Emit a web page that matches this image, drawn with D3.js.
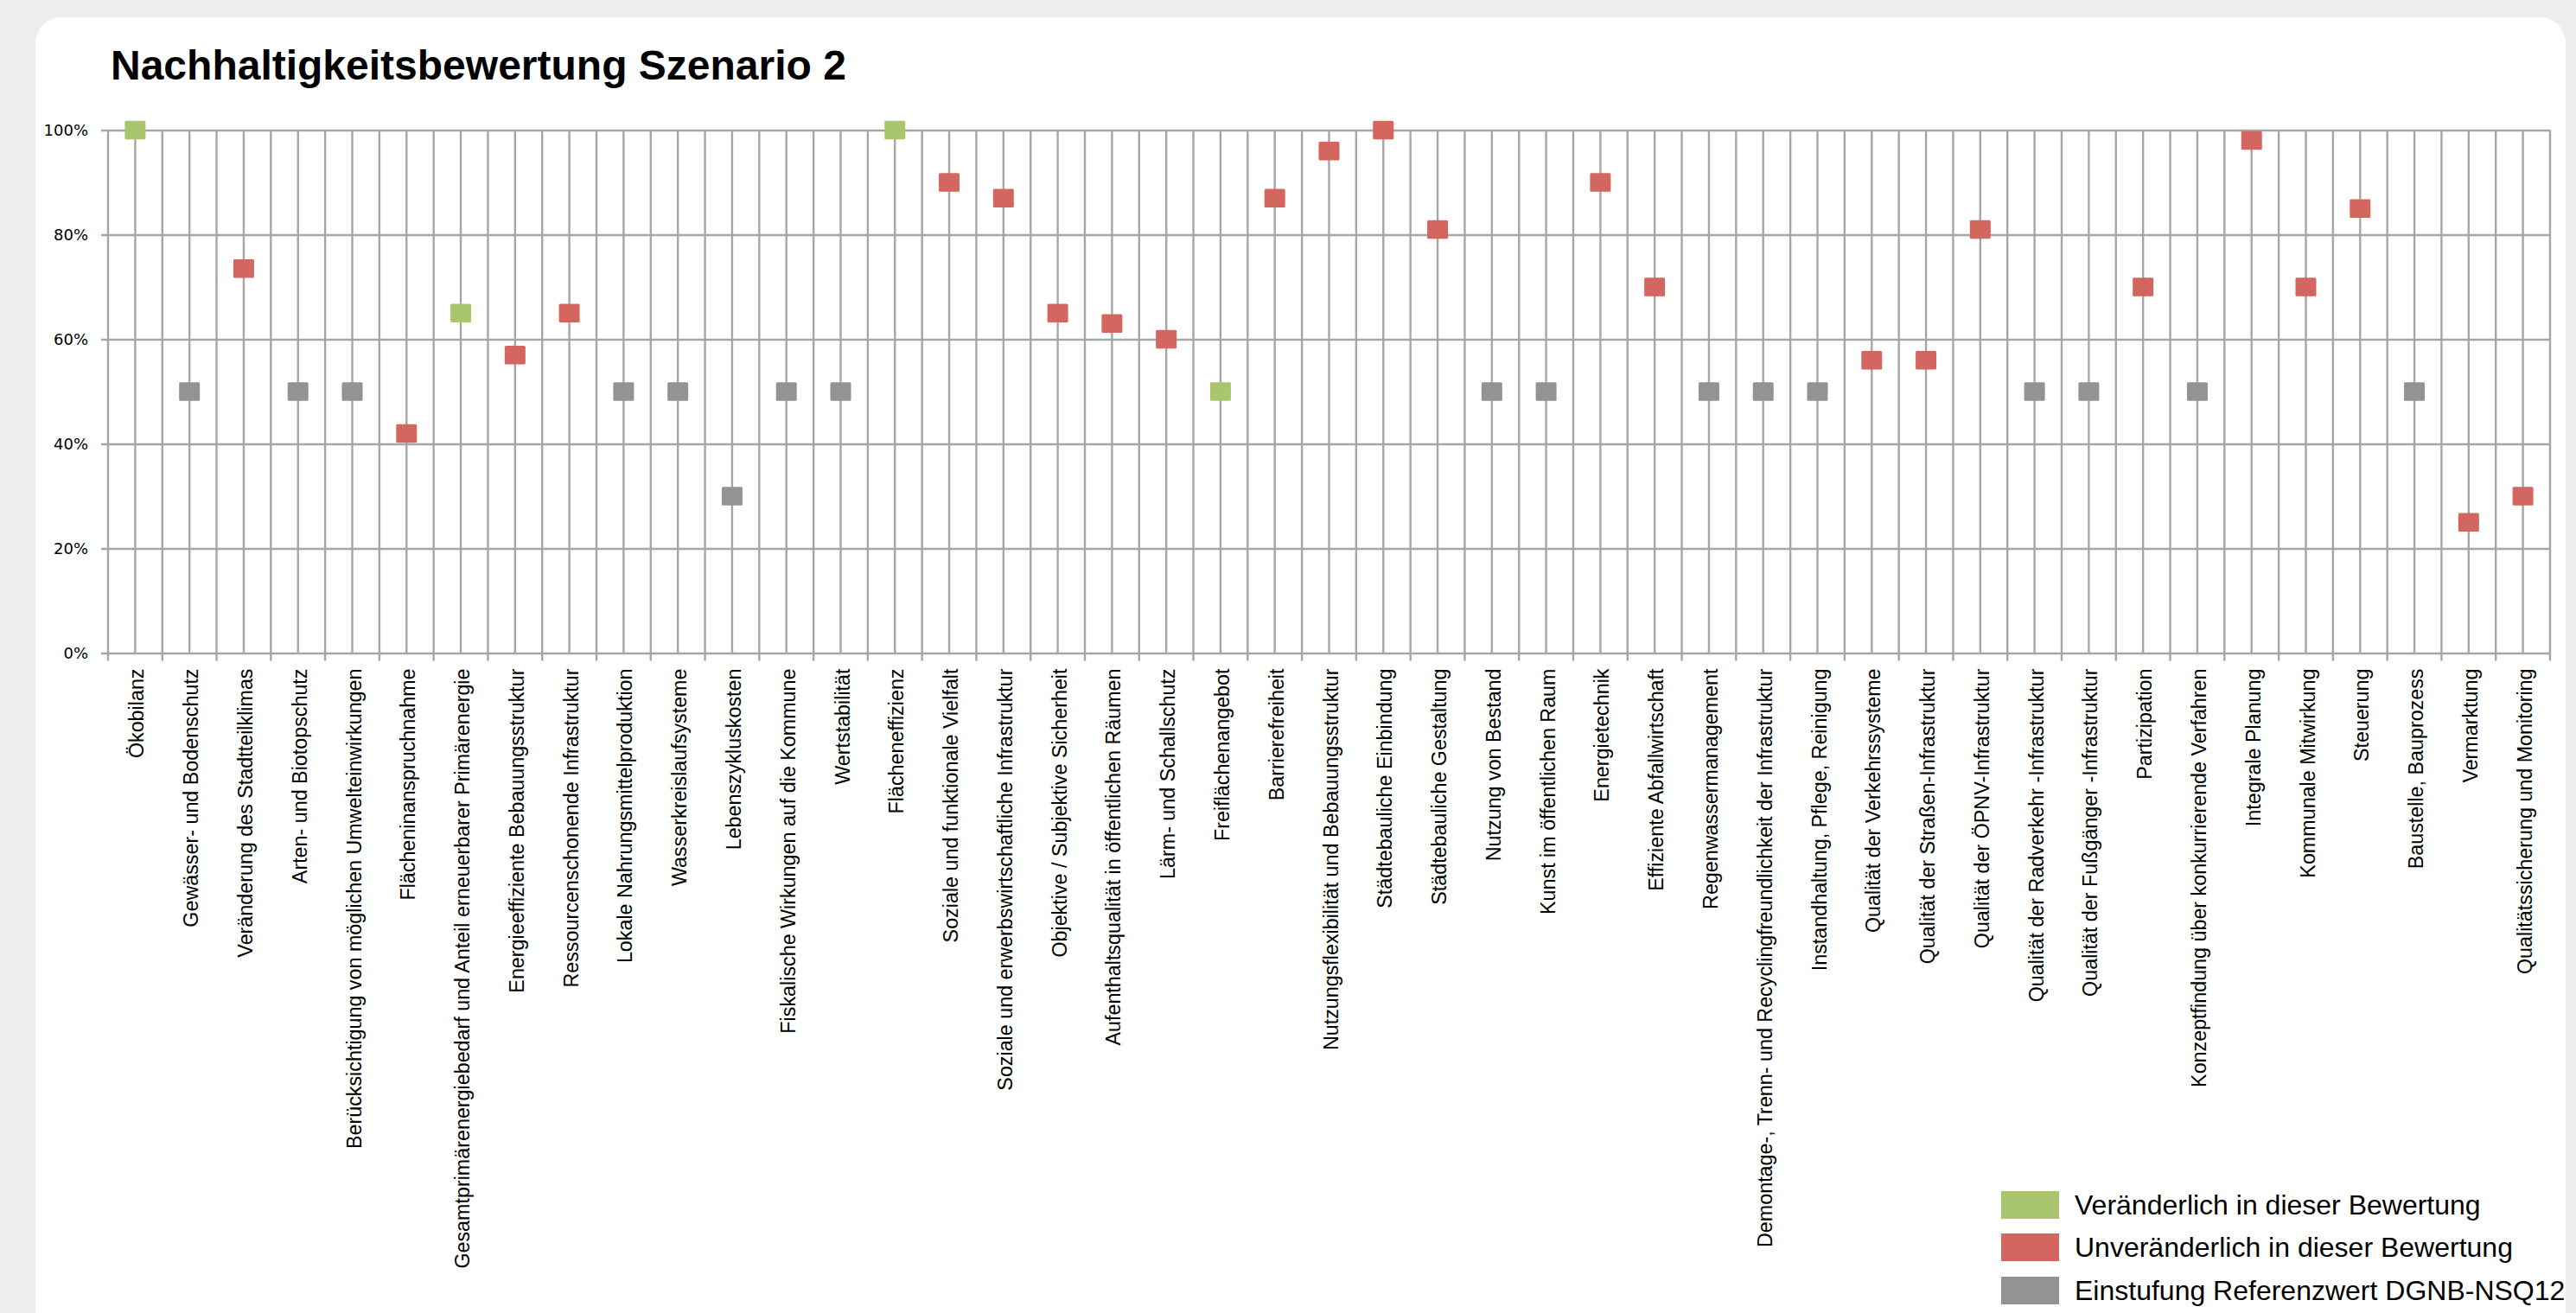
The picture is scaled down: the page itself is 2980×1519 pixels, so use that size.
<!DOCTYPE html>
<html lang="de">
<head>
<meta charset="utf-8">
<title>Nachhaltigkeitsbewertung Szenario 2</title>
<script src="https://cdn.jsdelivr.net/npm/d3@7"></script>
<style>
  html, body { margin: 0; padding: 0; background: #eeecec; }
  svg { display: block; }
</style>
</head>
<body>
<svg id="chart" width="2980" height="1519"></svg>
<script>
// Kriterien der Bewertung (x-Achse)
const categories = [
  "Ökobilanz",
  "Gewässer- und Bodenschutz",
  "Veränderung des Stadtteilklimas",
  "Arten- und Biotopschutz",
  "Berücksichtigung von möglichen Umwelteinwirkungen",
  "Flächeninanspruchnahme",
  "Gesamtprimärenergiebedarf und Anteil erneuerbarer Primärenergie",
  "Energieeffiziente Bebauungsstruktur",
  "Ressourcenschonende Infrastruktur",
  "Lokale Nahrungsmittelproduktion",
  "Wasserkreislaufsysteme",
  "Lebenszykluskosten",
  "Fiskalische Wirkungen auf die Kommune",
  "Wertstabilität",
  "Flächeneffizienz",
  "Soziale und funktionale Vielfalt",
  "Soziale und erwerbswirtschaftliche Infrastruktur",
  "Objektive / Subjektive Sicherheit",
  "Aufenthaltsqualität in öffentlichen Räumen",
  "Lärm- und Schallschutz",
  "Freiflächenangebot",
  "Barrierefreiheit",
  "Nutzungsflexibilität und Bebauungsstruktur",
  "Städtebauliche Einbindung",
  "Städtebauliche Gestaltung",
  "Nutzung von Bestand",
  "Kunst im öffentlichen Raum",
  "Energietechnik",
  "Effiziente Abfallwirtschaft",
  "Regenwassermanagement",
  "Demontage-, Trenn- und Recyclingfreundlichkeit der Infrastruktur",
  "Instandhaltung, Pflege, Reinigung",
  "Qualität der Verkehrssysteme",
  "Qualität der Straßen-Infrastruktur",
  "Qualität der ÖPNV-Infrastruktur",
  "Qualität der Radverkehr -Infrastruktur",
  "Qualität der Fußgänger -Infrastruktur",
  "Partizipation",
  "Konzeptfindung über konkurrierende Verfahren",
  "Integrale Planung",
  "Kommunale Mitwirkung",
  "Steuerung",
  "Baustelle, Bauprozess",
  "Vermarktung",
  "Qualitätssicherung und Monitoring"
];

// Erfüllungsgrad je Kriterium (Anteil 0..1), null = keine Angabe in dieser Reihe
const _ = null;
const veraenderlich = [
  1.00, _, _, _, _, _, 0.65, _, _, _,
  _, _, _, _, 1.00, _, _, _, _, _,
  0.50, _, _, _, _, _, _, _, _, _,
  _, _, _, _, _, _, _, _, _, _,
  _, _, _, _, _
];
const unveraenderlich = [
  _, _, 0.735, _, _, 0.42, _, 0.57, 0.65, _,
  _, _, _, _, _, 0.90, 0.87, 0.65, 0.63, 0.60,
  _, 0.87, 0.96, 1.00, 0.81, _, _, 0.90, 0.70, _,
  _, _, 0.56, 0.56, 0.81, _, _, 0.70, _, 0.98,
  0.70, 0.85, _, 0.25, 0.30
];
const referenzwert = [
  _, 0.50, _, 0.50, 0.50, _, _, _, _, 0.50,
  0.50, 0.30, 0.50, 0.50, _, _, _, _, _, _,
  _, _, _, _, _, 0.50, 0.50, _, _, 0.50,
  0.50, 0.50, _, _, _, 0.50, 0.50, _, 0.50, _,
  _, _, 0.50, _, _
];

const yTicks = [0, 0.2, 0.4, 0.6, 0.8, 1.0];

const seriesNames = [
  "Veränderlich in dieser Bewertung",
  "Unveränderlich in dieser Bewertung",
  "Einstufung Referenzwert DGNB-NSQ12"
];
const seriesColors = ["#a9c66e", "#d3665f", "#939393"];
const seriesData = [veraenderlich, unveraenderlich, referenzwert];

const svg = d3.select("#chart");
const gridColor = "#a6a6a6";

// Weiße Karte mit abgerundeten Ecken
svg.append("rect")
  .attr("x", 41).attr("y", 20)
  .attr("width", 2927).attr("height", 1600)
  .attr("rx", 30).attr("ry", 30)
  .attr("fill", "#ffffff");

// Titel
svg.append("text")
  .attr("x", 128).attr("y", 92)
  .attr("font-family", "'Liberation Sans', Arial, sans-serif")
  .attr("font-weight", "bold")
  .attr("font-size", 48)
  .attr("fill", "#000")
  .text("Nachhaltigkeitsbewertung Szenario 2");

// Skalen
const plot = { left: 125, right: 2950, top: 150.5, bottom: 755.5 };
const x = d3.scaleBand()
  .domain(categories)
  .range([plot.left, plot.right])
  .paddingInner(0).paddingOuter(0);
const y = d3.scaleLinear()
  .domain([0, 1])
  .range([plot.bottom, plot.top]);

const bw = x.bandwidth();
const g = svg.append("g");

// Vertikale Gitterlinien: an den Kategoriegrenzen und in der Kategoriemitte
const vLines = [];
categories.forEach(c => { vLines.push(x(c)); vLines.push(x(c) + bw / 2); });
vLines.push(plot.right);
g.append("g").selectAll("line").data(vLines).join("line")
  .attr("x1", d => d).attr("x2", d => d)
  .attr("y1", plot.top).attr("y2", plot.bottom)
  .attr("stroke", gridColor).attr("stroke-width", 2.4);

// y-Achse mit horizontalen Gitterlinien
const yAxis = d3.axisLeft(y)
  .tickValues(yTicks)
  .tickFormat(d3.format(".0%"))
  .tickSize(-(plot.right - plot.left))
  .tickPadding(0);
const yg = g.append("g")
  .attr("transform", `translate(${plot.left},0)`)
  .call(yAxis);
yg.select(".domain").remove();
yg.selectAll(".tick line")
  .attr("x1", -8)
  .attr("stroke", gridColor).attr("stroke-width", 2.4);
yg.selectAll(".tick text")
  .attr("x", -23)
  .attr("dy", "0.36em")
  .attr("font-family", "'DejaVu Sans', Verdana, sans-serif")
  .attr("font-size", 18)
  .attr("fill", "#000");

// x-Achse: Teilstriche an den Kategoriegrenzen, gedrehte Beschriftungen
const boundaries = categories.map(c => x(c)).concat([plot.right]);
g.append("g").selectAll("line").data(boundaries).join("line")
  .attr("x1", d => d).attr("x2", d => d)
  .attr("y1", plot.bottom).attr("y2", plot.bottom + 9)
  .attr("stroke", gridColor).attr("stroke-width", 2.4);

g.append("g").selectAll("text").data(categories).join("text")
  .attr("transform", d => `translate(${x(d) + bw / 2 + 2},${plot.bottom + 18}) rotate(-90)`)
  .attr("text-anchor", "end")
  .attr("dominant-baseline", "central")
  .attr("font-family", "'Liberation Sans', Arial, sans-serif")
  .attr("font-size", 23.3)
  .attr("fill", "#000")
  .text(d => d);

// Markierungen je Reihe
const mw = 24, mh = 21.5;
seriesData.forEach((vals, si) => {
  const pts = categories.map((c, i) => ({ c, v: vals[i] })).filter(p => p.v !== null);
  g.append("g").selectAll("rect").data(pts).join("rect")
    .attr("x", p => x(p.c) + bw / 2 - mw / 2)
    .attr("y", p => y(p.v) - mh / 2)
    .attr("width", mw).attr("height", mh)
    .attr("rx", 1.5)
    .attr("fill", seriesColors[si]);
});

// Legende
const legendY = [1378, 1427, 1477];
const lg = svg.append("g");
seriesNames.forEach((name, i) => {
  lg.append("rect")
    .attr("x", 2315).attr("y", legendY[i])
    .attr("width", 67).attr("height", 32)
    .attr("fill", seriesColors[i]);
  lg.append("text")
    .attr("x", 2400).attr("y", legendY[i] + 16 + 11)
    .attr("font-family", "'Liberation Sans', Arial, sans-serif")
    .attr("font-size", 32)
    .attr("fill", "#000")
    .text(name);
});
</script>
</body>
</html>
